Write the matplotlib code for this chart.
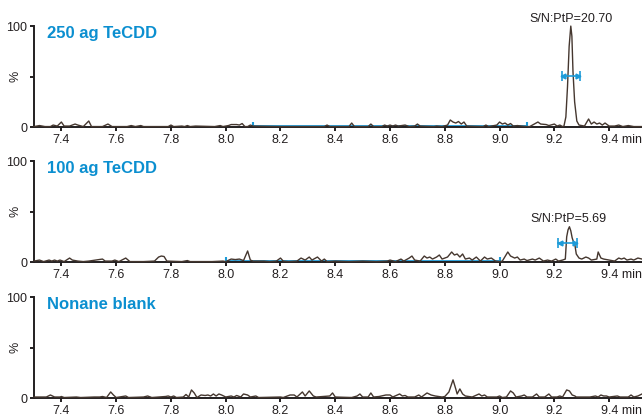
import matplotlib
matplotlib.use("Agg")
import matplotlib.pyplot as plt
import matplotlib.transforms as mtransforms

plt.rcParams["font.family"] = ["Liberation Sans", "DejaVu Sans"]

# retention time (min) / relative intensity (%) for each injection
t250 = [7.30, 7.32, 7.34, 7.36, 7.37, 7.385, 7.40, 7.41, 7.43, 7.45, 7.46, 7.48,
        7.50, 7.51, 7.55, 7.57, 7.585, 7.64, 7.655, 7.67, 7.69, 7.70, 7.79, 7.80,
        7.81, 7.84, 7.85, 7.86, 7.87, 7.89, 7.96, 7.98, 7.99, 8.01, 8.02, 8.04,
        8.05, 8.06, 8.07, 8.08, 8.09, 8.10, 8.20, 8.30, 8.36, 8.37, 8.38, 8.45,
        8.46, 8.47, 8.52, 8.53, 8.54, 8.57, 8.58, 8.59, 8.60, 8.61, 8.62, 8.63,
        8.655, 8.67, 8.69, 8.70, 8.71, 8.76, 8.77, 8.79, 8.81, 8.82, 8.83, 8.84,
        8.85, 8.86, 8.87, 8.88, 8.94, 8.95, 8.96, 8.99, 9.00, 9.01, 9.02, 9.03,
        9.04, 9.05, 9.065, 9.08, 9.10, 9.11, 9.14, 9.15, 9.17, 9.18, 9.20, 9.21,
        9.22, 9.23, 9.235, 9.242, 9.248, 9.254, 9.260, 9.264, 9.268, 9.274, 9.282,
        9.29, 9.31, 9.325, 9.335, 9.345, 9.355, 9.365, 9.375, 9.385, 9.40, 9.42,
        9.435, 9.45, 9.47, 9.49, 9.52]
i250 = [0.5, 1.5, 0.5, 0.5, 2, 1, 5, 1, 1, 3, 2, 0.5,
        6, 0.5, 0.5, 3, 0.5, 0.5, 1.5, 0.5, 1.5, 0.5, 0.5, 2,
        0.5, 1, 0.5, 1.5, 0.5, 1, 0.5, 1.5, 0.5, 1.5, 2.5, 2.5,
        2, 3.5, 0.5, 0.5, 2, 1, 0.5, 0.5, 0.5, 2, 0.5, 0.5,
        4, 0.5, 0.5, 3, 0.5, 0.5, 2, 1, 2, 1, 2, 1,
        2, 0.5, 1, 3, 1, 0.5, 1, 0.5, 2, 7, 5, 4,
        5.5, 3, 5, 1, 0.5, 2, 0.5, 2, 5, 3, 4, 2,
        3.5, 1, 1.5, 1, 0.5, 0.5, 5, 3, 2.5, 1.5, 3, 1,
        2, 0.5, 1, 10, 40, 80, 100, 90, 55, 25, 6,
        2, 1, 8, 3, 5, 3, 4, 2, 4, 1, 1,
        2, 0.5, 1.5, 0.5, 0.5]

t100 = [7.30, 7.32, 7.335, 7.355, 7.365, 7.375, 7.385, 7.395, 7.41, 7.43, 7.44,
        7.46, 7.48, 7.50, 7.55, 7.56, 7.585, 7.595, 7.61, 7.635, 7.65, 7.70,
        7.74, 7.755, 7.765, 7.775, 7.785, 7.84, 7.86, 7.87, 7.95, 7.99, 8.00,
        8.02, 8.035, 8.05, 8.065, 8.08, 8.09, 8.10, 8.14, 8.16, 8.185, 8.20,
        8.21, 8.23, 8.26, 8.275, 8.29, 8.305, 8.315, 8.335, 8.35, 8.36, 8.37,
        8.40, 8.45, 8.50, 8.55, 8.59, 8.60, 8.62, 8.64, 8.65, 8.67, 8.68, 8.69,
        8.71, 8.725, 8.735, 8.745, 8.755, 8.77, 8.78, 8.79, 8.81, 8.825, 8.835,
        8.845, 8.855, 8.865, 8.875, 8.89, 8.90, 8.915, 8.93, 8.945, 8.955, 8.97,
        8.985, 9.00, 9.01, 9.03, 9.04, 9.055, 9.065, 9.075, 9.09, 9.10, 9.12,
        9.13, 9.145, 9.16, 9.175, 9.19, 9.205, 9.215, 9.23, 9.24, 9.245, 9.25,
        9.255, 9.26, 9.265, 9.27, 9.275, 9.28, 9.29, 9.30, 9.315, 9.325, 9.335,
        9.355, 9.36, 9.37, 9.38, 9.40, 9.42, 9.435, 9.445, 9.455, 9.465, 9.48,
        9.49, 9.505, 9.52]
i100 = [1, 2, 0.5, 2, 1, 2, 1, 2, 0.5, 4, 2,
        1, 0.5, 1, 3, 1, 1, 2, 0.5, 4, 0.5, 0.5,
        1, 5, 6, 5.5, 1, 0.5, 1.5, 0.5, 0.5, 1, 0.5,
        3, 2.5, 3, 1.5, 11, 2, 1, 1, 0.5, 1, 4,
        1, 0.5, 1, 4, 2, 5, 2, 5, 1, 3, 0.5,
        1, 0.5, 1, 0.5, 1, 2, 0.5, 3, 1, 4, 6, 2,
        1, 6, 4, 5, 3, 5, 7, 3, 5, 10, 7,
        8, 5, 8, 3, 4, 2, 5, 1, 5, 3, 4,
        1, 0.5, 1, 10, 6, 4, 5, 2, 3, 1.5, 3,
        2, 4, 1, 2, 1, 3, 1, 2, 3, 25, 32,
        35, 31, 24, 20, 17, 8, 4, 3, 5, 4, 2,
        3, 10, 4, 3, 2, 1, 4, 3, 4, 2, 3,
        2, 4, 3]

t_blank = [7.30, 7.32, 7.345, 7.36, 7.375, 7.395, 7.40, 7.41, 7.455, 7.47, 7.52,
           7.54, 7.55, 7.565, 7.58, 7.59, 7.60, 7.635, 7.645, 7.70, 7.715, 7.73,
           7.78, 7.79, 7.80, 7.81, 7.82, 7.845, 7.855, 7.865, 7.875, 7.885, 7.895,
           7.91, 7.925, 7.935, 7.945, 7.955, 7.965, 7.975, 7.985, 8.00, 8.02, 8.03,
           8.04, 8.055, 8.065, 8.08, 8.09, 8.11, 8.12, 8.20, 8.21, 8.235, 8.25,
           8.26, 8.28, 8.29, 8.305, 8.32, 8.33, 8.38, 8.39, 8.40, 8.46, 8.48, 8.49,
           8.50, 8.52, 8.53, 8.54, 8.56, 8.585, 8.60, 8.61, 8.635, 8.645, 8.655,
           8.665, 8.69, 8.705, 8.715, 8.735, 8.75, 8.765, 8.79, 8.80, 8.815, 8.83,
           8.84, 8.845, 8.855, 8.865, 8.875, 8.90, 8.925, 8.935, 8.945, 8.955, 8.99,
           9.00, 9.01, 9.025, 9.04, 9.05, 9.06, 9.08, 9.09, 9.10, 9.12, 9.135,
           9.145, 9.165, 9.18, 9.19, 9.21, 9.22, 9.23, 9.245, 9.255, 9.265, 9.275,
           9.28, 9.33, 9.35, 9.36, 9.37, 9.38, 9.39, 9.40, 9.43, 9.44, 9.47, 9.48,
           9.49, 9.505, 9.52]
i_blank = [1, 1, 1, 3, 1, 1, 1.5, 0.5, 1, 0.5, 1,
           1, 1.5, 0.5, 6, 3, 0.5, 2, 0.5, 1, 2, 0.5,
           1.5, 2, 1, 2, 0.5, 1, 3.5, 1, 8, 5, 0.5,
           3, 2.5, 3, 2, 4, 2, 4, 3, 1, 2, 1,
           2.5, 1, 4, 3, 1, 2, 0.5, 1, 0.5, 3, 3,
           1, 6, 2, 7, 2, 1, 2, 5, 1, 0.5, 2, 4,
           1, 1, 5, 1, 1.5, 3, 3, 1, 4, 2, 2.5,
           1, 1, 3, 1, 5, 3, 2, 1, 1.5, 6, 18,
           9, 4, 9, 4, 2, 1, 4, 2, 3, 1, 1,
           2, 0.5, 1, 7, 5, 1, 2, 3, 1, 1, 4,
           1, 1, 4, 1, 1, 2, 1, 8, 7, 3, 2,
           1, 1, 2, 1, 3, 2, 2, 1, 2, 1, 1, 3,
           1, 2, 4]

titles = ["250 ag TeCDD", "100 ag TeCDD", "Nonane blank"]
traces = [(t250, i250), (t100, i100), (t_blank, i_blank)]
sn_labels = ["S/N:PtP=20.70", "S/N:PtP=5.69", None]
sn_pos = [(9.26, 107), (9.253, 43), None]
# integration baseline (start, end) and peak width bar (left, right, height)
noise_range = [(8.10, 9.10), (8.00, 9.00), None]
width_bar = [(9.227, 9.293, 51), (9.213, 9.282, 19), None]
xticks = [7.4, 7.6, 7.8, 8.0, 8.2, 8.4, 8.6, 8.8, 9.0, 9.2, 9.4]

trace_col = "#45372f"
blue = "#1d9bd8"
title_col = "#0b8fd0"
ink = "#231f20"
fs = 9
tick_len = 3
tick_pad = 2

fig = plt.figure(figsize=(6.42, 4.18), dpi=100)
bottoms = [0.696, 0.373, 0.0478]
H = 0.2416
L = 34 / 642

for k in range(3):
    ax = fig.add_axes([L, bottoms[k], 1 - L, H])
    t, y = traces[k]
    ax.set_xlim(7.30, 9.52)
    ax.set_ylim(0, 100)

    if noise_range[k]:
        a, b = noise_range[k]
        ax.plot([a, b], [0.8, 0.8], color=blue, lw=2.0, solid_capstyle="butt",
                zorder=2)
        ax.plot([a, b], [2.5, 2.5], ls="none", marker="|", ms=5, mew=1.5,
                color=blue, zorder=2)

    ax.plot(t, y, color=trace_col, lw=1.0, clip_on=False, zorder=3)

    if width_bar[k]:
        a, b, h = width_bar[k]
        ax.plot([a, b], [h, h], color=blue, lw=1.2, zorder=4)
        ax.plot([a, b], [h, h], ls="none", marker="|", ms=7, mew=1.2,
                color=blue, zorder=4)
        d = 0.006
        ax.plot([a + d], [h], marker="<", ms=3.5, color=blue, zorder=4)
        ax.plot([b - d], [h], marker=">", ms=3.5, color=blue, zorder=4)

    if sn_labels[k]:
        sx, sy = sn_pos[k]
        ax.text(sx, sy, sn_labels[k], ha="center", va="center", fontsize=fs,
                color=ink, clip_on=False)

    ax.text(0.021, 0.93, titles[k], transform=ax.transAxes, ha="left",
            va="center", fontsize=12, fontweight="bold", color=title_col)

    for side in ["top", "right"]:
        ax.spines[side].set_visible(False)
    for side in ["left", "bottom"]:
        ax.spines[side].set_color(ink)
        ax.spines[side].set_linewidth(1.4)

    ax.set_yticks([0, 50, 100])
    ax.set_yticklabels(["0", "", "100"])
    ax.set_xticks(xticks)
    # the last tick carries the unit, drawn separately below
    ax.set_xticklabels([f"{v:.1f}" for v in xticks[:-1]] + [""])
    ax.tick_params(axis="both", direction="out", length=tick_len, width=1.4,
                   color=ink, labelsize=fs, labelcolor=ink, pad=tick_pad)
    ax.set_ylabel("%", fontsize=fs, color=ink)
    ax.yaxis.set_label_coords(-0.021, 0.5)

    off = mtransforms.ScaledTranslation(0, -(tick_len + tick_pad) / 72,
                                        fig.dpi_scale_trans)
    trans = mtransforms.blended_transform_factory(ax.transData, ax.transAxes)
    ax.text(9.371, 0, "9.4 min", transform=trans + off, ha="left", va="top",
            fontsize=fs, color=ink)

fig.savefig("out.png", dpi=100)
